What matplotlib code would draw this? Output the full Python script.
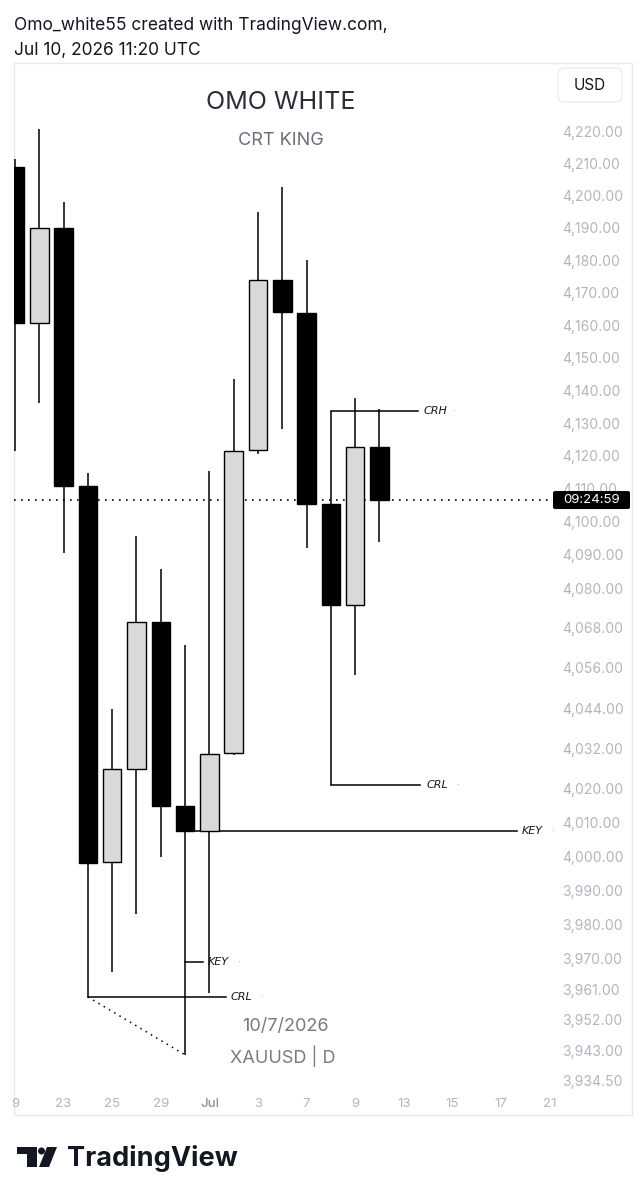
import numpy as np
import matplotlib
matplotlib.use("Agg")
import matplotlib.pyplot as plt
from matplotlib.patches import Rectangle, FancyBboxPatch, Circle, Polygon
from matplotlib.ticker import NullLocator
from matplotlib.transforms import IdentityTransform

plt.rcParams['font.family'] = ['Inter', 'DejaVu Sans']

# XAUUSD daily bars, Jun 19 -> Jul 10 2026
dates = ["Jun 19", "Jun 22", "Jun 23", "Jun 24", "Jun 25", "Jun 26", "Jun 29", "Jun 30",
         "Jul 1", "Jul 2", "Jul 3", "Jul 6", "Jul 7", "Jul 8", "Jul 9", "Jul 10"]
opens = [4208.8, 4160.6, 4189.9, 4110.9, 3998.3, 4025.9, 4069.8, 4014.9,
         4007.5, 4030.6, 4121.8, 4173.8, 4163.7, 4105.4, 4074.9, 4122.7]
highs = [4211.3, 4220.6, 4197.9, 4114.8, 4043.7, 4095.7, 4085.7, 4062.9,
         4115.4, 4143.4, 4194.8, 4202.6, 4180.0, 4133.7, 4137.6, 4134.3]
lows = [4121.5, 4136.1, 4090.6, 3958.7, 3966.0, 3983.0, 3999.8, 3941.8,
        3959.9, 4030.0, 4120.6, 4128.2, 4092.1, 4021.1, 4053.9, 4093.9]
closes = [4160.6, 4189.9, 4110.9, 3998.0, 4025.9, 4069.8, 4014.9, 4007.5,
          4030.3, 4121.5, 4173.8, 4164.0, 4105.4, 4074.9, 4122.7, 4106.6]

# time axis (bar index) and labels
time_ticks = [0, 2, 4, 6, 8, 10, 12, 14, 16, 18, 20, 22]
time_labels = ["9", "23", "25", "29", "Jul", "3", "7", "9", "13", "15", "17", "21"]

# price scale labels
price_ticks = [4220, 4210, 4200, 4190, 4180, 4170, 4160, 4150, 4140, 4130, 4120, 4110,
               4100, 4090, 4080, 4068, 4056, 4044, 4032, 4020, 4010, 4000, 3990, 3980,
               3970, 3961, 3952, 3943, 3934.5]

# drawings: (label, level, x_start, x_end, label_x)
levels = [
    ("CRH", 4133.7, 13, 16.6, 16.8),
    ("CRL", 4021.1, 13, 16.66, 16.95),
    ("KEY", 4007.5, 7, 20.66, 20.86),
    ("KEY", 3968.9, 7, 7.72, 7.94),
    ("CRL", 3958.7, 3, 8.68, 8.89),
]
diag_x = [3, 7]
diag_y = [3958.7, 3941.8]

fig = plt.figure(figsize=(6.4, 12), dpi=100, facecolor="white")

# background layer in pixel coords
bg = fig.add_axes([0, 0, 1, 1], zorder=-1)
bg.set_xlim(0, 640)
bg.set_ylim(1200, 0)
bg.axis("off")
bg.add_patch(Rectangle((14, 63), 618, 1052, fill=False, ec="#e9e9ec", lw=1))
bg.add_patch(FancyBboxPatch((558, 68), 64, 34, boxstyle="round,pad=0,rounding_size=6",
                            ec="#ececef", fc="white", lw=1))
bg.text(590, 86, "USD", ha="center", va="center", fontsize=11, color="#131722")
bg.text(14, 26, "Omo_white55 created with TradingView.com,", va="center",
        fontsize=12.5, color="#131722")
bg.text(14, 50, "Jul 10, 2026 11:20 UTC", va="center", fontsize=12.5, color="#131722")
# TradingView logo
bg.add_patch(Polygon([(17, 1147), (37, 1147), (37, 1167), (27, 1167), (27, 1154), (17, 1154)],
                     closed=True, fc="#131722", ec="none"))
bg.add_patch(Circle((41.5, 1151), 3.5, fc="#131722", ec="none"))
bg.add_patch(Polygon([(47, 1147), (57, 1147), (49, 1167), (39, 1167)], closed=True,
                     fc="#131722", ec="none"))
bg.text(67, 1158, "TradingView", va="center", fontsize=19.5, fontweight="bold", color="#131722")

ax = fig.add_axes([14 / 640, 1 - 1090 / 1200, 538 / 640, 1027 / 1200])
ax.patch.set_visible(False)
for s in ax.spines.values():
    s.set_visible(False)

o = np.array(opens)
h = np.array(highs)
l = np.array(lows)
c = np.array(closes)
x = np.arange(len(o))
up = c >= o

ax.set_yscale("log")
ax.vlines(x, l, h, color="black", lw=1.1, zorder=2)
ax.bar(x, np.abs(c - o), bottom=np.minimum(o, c), width=0.76,
       color=np.where(up, "#d9d9d9", "black"), edgecolor="black", linewidth=1.0, zorder=3)

# drawings
for lab, lv, x0, x1, xl in levels:
    ax.plot([x0, x1], [lv, lv], color="black", lw=1.1, zorder=2)
    ax.text(xl, lv, lab, fontsize=8, style="italic", family="DejaVu Sans",
            va="center", ha="left", color="#131722")
    ax.annotate("·", xy=(xl, lv), xytext=(21, 0), textcoords="offset points",
                va="center", fontsize=7, color="#9a9a9a")
ax.plot(diag_x, diag_y, color="black", lw=1.1, ls=(0, (1, 3)), zorder=2)

# current price line
ax.axhline(closes[-1], color="black", lw=1.2, ls=(0, (1, 3.2)), zorder=1)

ax.set_xlim(-0.041, 22.1)
ax.set_ylim(3931.6, 4241.24)

ax.yaxis.tick_right()
ax.set_yticks(price_ticks)
ax.set_yticklabels([f"{v:,.2f}" for v in price_ticks])
ax.yaxis.set_minor_locator(NullLocator())
ax.tick_params(axis="y", length=0, pad=7, labelsize=10, labelcolor="#b2b5be")
ax.set_xticks(time_ticks)
ax.set_xticklabels(time_labels)
ax.tick_params(axis="x", length=0, pad=6, labelsize=9.5, labelcolor="#b2b5be")
for t in ax.get_xticklabels():
    if t.get_text() == "Jul":
        t.set_color("#8f929b")
        t.set_fontweight("medium")

# watermark / text drawings
ax.text(0.496, 0.962, "OMO WHITE", transform=ax.transAxes, ha="center", va="center",
        fontsize=18, color="#2a2e39")
ax.text(0.496, 0.925, "CRT KING", transform=ax.transAxes, ha="center", va="center",
        fontsize=13, color="#6a6d78")
ax.text(0.504, 0.062, "10/7/2026", transform=ax.transAxes, ha="center", va="center",
        fontsize=13, color="#787b86")
ax.text(0.5, 0.033, "XAUUSD | D", transform=ax.transAxes, ha="center", va="center",
        fontsize=13, color="#787b86")

# countdown label on the price scale
yd = ax.transData.transform((0, closes[-1]))[1]
fig.add_artist(FancyBboxPatch((553, yd - 9), 77, 18, boxstyle="round,pad=0,rounding_size=2",
                              fc="black", ec="none", transform=IdentityTransform(), zorder=5))
fig.text(591.5 / 640, yd / 1200, "09:24:59", ha="center", va="center", fontsize=9.5,
         color="white", zorder=6)

fig.savefig("out.png", dpi=100, facecolor="white")
